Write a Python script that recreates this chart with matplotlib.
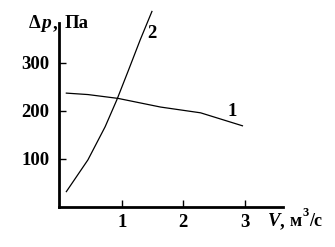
import numpy as np
import matplotlib.pyplot as plt

# curve 1 (network), curve 2 (fan)
v1 = [0.10, 0.45, 0.94, 1.63, 2.28, 2.96]
dp1 = [237, 234, 226, 208, 196, 169]
v2 = [0.10, 0.45, 0.73, 0.92, 1.11, 1.30, 1.49]
dp2 = [32, 98, 167, 223, 285, 348, 407]
xticks = [1, 2, 3]
yticks = [100, 200, 300]

plt.rcParams['font.family'] = 'Liberation Serif'
plt.rcParams['font.weight'] = 'bold'

fig = plt.figure(figsize=(3.35, 2.47), dpi=100)
ax = fig.add_axes([0.176, 0.162, 0.669, 0.745])
ax.plot(v1, dp1, color='black', lw=0.9, clip_on=False)
ax.plot(v2, dp2, color='black', lw=0.9, clip_on=False)

ax.set_xlim(-0.02, 3.62)
ax.set_ylim(0, 383)
for s in ['top', 'right']:
    ax.spines[s].set_visible(False)
for s in ['left', 'bottom']:
    ax.spines[s].set_linewidth(2)
ax.set_xticks(xticks)
ax.set_yticks(yticks)
ax.tick_params(direction='in', length=5, width=1, labelsize=13.5)
ax.tick_params(axis='x', pad=5)
ax.tick_params(axis='y', pad=7)

ax.text(1.42, 352, '2', fontsize=13.5, fontweight='bold')
ax.text(2.72, 190, '1', fontsize=13.5, fontweight='bold')
# axis captions
fig.text(0.085, 0.885, 'Δ', fontsize=13.5, fontweight='bold')
fig.text(0.124, 0.885, 'p', fontsize=14, fontweight='bold', style='italic')
fig.text(0.156, 0.885, ',', fontsize=13.5, fontweight='bold')
fig.text(0.192, 0.885, 'Па', fontsize=13.5, fontweight='bold')
fig.text(0.800, 0.085, 'V', fontsize=13.5, fontweight='bold', style='italic')
fig.text(0.835, 0.085, ',', fontsize=13.5, fontweight='bold')
fig.text(0.865, 0.085, 'м', fontsize=13, fontweight='bold')
fig.text(0.902, 0.125, '3', fontsize=9, fontweight='bold')
fig.text(0.922, 0.085, '/с', fontsize=13, fontweight='bold')

fig.savefig('out.png', dpi=100)
